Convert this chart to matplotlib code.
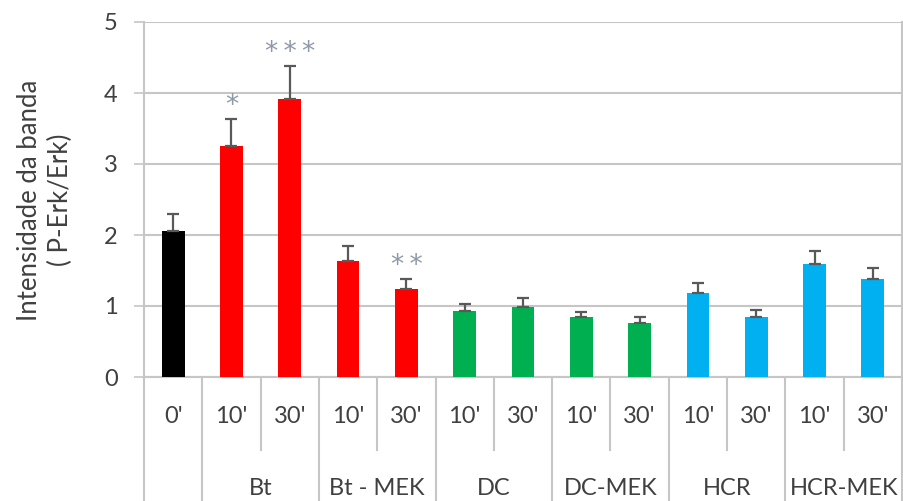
import numpy as np
import matplotlib.pyplot as plt
from matplotlib.transforms import blended_transform_factory

plt.rcParams['font.family'] = ['Lato', 'DejaVu Sans']

times = ["0'", "10'", "30'", "10'", "30'", "10'", "30'", "10'", "30'", "10'", "30'", "10'", "30'"]
groups = ["Bt", "Bt - MEK", "DC", "DC-MEK", "HCR", "HCR-MEK"]
values = [2.06, 3.26, 3.92, 1.64, 1.24, 0.93, 0.99, 0.84, 0.76, 1.18, 0.85, 1.59, 1.38]
errors = [0.24, 0.38, 0.46, 0.21, 0.14, 0.10, 0.12, 0.08, 0.09, 0.15, 0.09, 0.19, 0.16]
colors = ["black"] + ["#ff0000"] * 4 + ["#00b050"] * 4 + ["#00b0f0"] * 4
stars = {1: "*", 2: "*\u2009*\u2009*", 4: "*\u2009*"}

grid_c = "#c6c6c6"
text_c = "#404040"

fig = plt.figure(figsize=(9.04, 5.01), dpi=100)
ax = fig.add_axes([144 / 904, (501 - 377) / 501, 758 / 904, 355 / 501])

x = np.arange(len(values))
ax.bar(x, values, width=0.39, color=colors, zorder=3)
ax.errorbar(x, values, yerr=[np.zeros(len(errors)), errors], fmt="none",
            ecolor="#595959", elinewidth=1.6, capsize=4.5, capthick=1.6, zorder=4)

for i, s in stars.items():
    ax.annotate(s, (x[i], values[i] + errors[i]), xytext=(0, 0), textcoords="offset points",
                ha="center", va="bottom", fontsize=19, color="#8e99a8", family="DejaVu Sans")

ax.set_xlim(-0.5, len(values) - 0.5)
ax.set_ylim(0, 5)
ax.set_yticks(range(6))
ax.set_yticklabels([str(v) for v in range(6)])
ax.set_xticks([])
ax.yaxis.grid(True, color=grid_c, linewidth=1.5, zorder=0)
ax.tick_params(axis="y", length=7, width=1.2, color=grid_c, labelsize=17,
               labelcolor=text_c, pad=12)
ax.spines["top"].set_visible(False)
for side in ["left", "bottom", "right"]:
    ax.spines[side].set_color(grid_c)
    ax.spines[side].set_linewidth(1.5)

fig.text(45 / 904, 1 - 200 / 501, "Intensidade da banda\n( P-Erk/Erk)", rotation=90,
         ha="center", va="center", fontsize=18.5, color=text_c, linespacing=1.3)

# category table under the axis
tr = blended_transform_factory(ax.transData, ax.transAxes)
long_edges = [-0.5, 0.5, 2.5, 4.5, 6.5, 8.5, 10.5, 12.5]
short_edges = [1.5, 3.5, 5.5, 7.5, 9.5, 11.5]
for e in long_edges:
    ax.plot([e, e], [0, -0.36], transform=tr, color=grid_c, lw=1.5, clip_on=False)
for e in short_edges:
    ax.plot([e, e], [0, -0.206], transform=tr, color=grid_c, lw=1.5, clip_on=False)

for i, t in enumerate(times):
    ax.text(x[i], -0.11, t, transform=tr, ha="center", va="center",
            fontsize=17, color=text_c)
for k, g in enumerate(groups):
    ax.text(1.5 + 2 * k, -0.315, g, transform=tr, ha="center", va="center",
            fontsize=17, color=text_c)

fig.savefig("out.png", dpi=100)
